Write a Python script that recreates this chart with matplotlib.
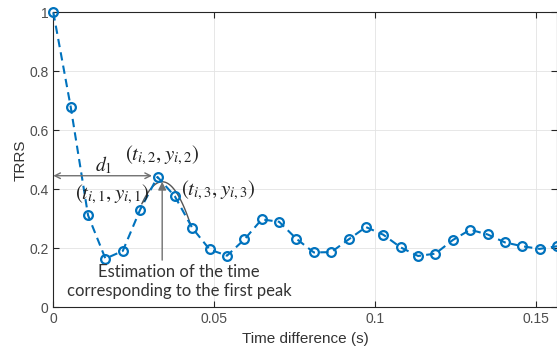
import matplotlib
matplotlib.use("Agg")
import matplotlib.pyplot as plt
import numpy as np

dt = 0.0054
trrs = [1.0, 0.68, 0.312, 0.165, 0.191, 0.331, 0.442, 0.376, 0.269, 0.196,
        0.175, 0.230, 0.298, 0.290, 0.232, 0.186, 0.187, 0.230, 0.272, 0.246,
        0.203, 0.174, 0.182, 0.228, 0.263, 0.247, 0.220, 0.207, 0.198, 0.207]
t = np.arange(len(trrs)) * dt
trrs = np.array(trrs)

xticks = [0, 0.05, 0.1, 0.15]
xticklabels = ["0", "0.05", "0.1", "0.15"]
yticks = [0, 0.2, 0.4, 0.6, 0.8, 1]
yticklabels = ["0", "0.2", "0.4", "0.6", "0.8", "1"]

plt.rcParams["font.family"] = ["Liberation Sans", "DejaVu Sans"]
plt.rcParams["mathtext.fontset"] = "stix"

fig = plt.figure(figsize=(5.57, 3.52), dpi=100)
ax = fig.add_axes([0.0957, 0.127, 0.9043, 0.838])

blue = "#0072BD"
ax.plot(t, trrs, linestyle="--", color=blue, lw=1.5, dashes=(4, 2.5),
        marker="o", ms=6.3, mfc="none", mec=blue, mew=1.6, zorder=3,
        clip_on=False)

# quadratic fit around the first peak (samples 5..8)
pk = slice(5, 9)
u = np.arange(4) - 1
c2, c1, c0 = np.polyfit(u, trrs[pk], 2)
uu = np.linspace(-0.9, 1.9, 100)
ax.plot(t[6] + uu * dt, c0 + c1 * uu + c2 * uu**2, color="#555555", lw=1.0, zorder=2)
u_peak = -c1 / (2 * c2)
t_peak = t[6] + u_peak * dt
y_peak = c0 + c1 * u_peak + c2 * u_peak**2

grey = "#707070"
# estimation arrow
ax.annotate("", xy=(t_peak, y_peak), xytext=(t_peak, 0.16),
            arrowprops=dict(arrowstyle="-|>", color=grey, lw=1.0,
                            mutation_scale=12, shrinkA=0, shrinkB=0))
ax.text(0.0391, 0.087, "Estimation of the time\ncorresponding to the first peak",
        ha="center", va="center", fontsize=12, family=["Lato", "DejaVu Sans"],
        color="#333333", linespacing=1.2)

# d1 arrow
ax.annotate("", xy=(0, 0.446), xytext=(t[6], 0.446),
            arrowprops=dict(arrowstyle="<->", color=grey, lw=1.0,
                            mutation_scale=10, shrinkA=4, shrinkB=0))
ax.text(0.0155, 0.482, r"$d_1$", ha="center", va="center", fontsize=14, color="#222222")

ax.text(0.0338, 0.516, r"$(t_{i,2}, y_{i,2})$", ha="center", va="center",
        fontsize=15, color="#222222")
ax.text(0.0184, 0.382, r"$(t_{i,1}, y_{i,1})$", ha="center", va="center",
        fontsize=15, color="#222222")
ax.text(0.0512, 0.397, r"$(t_{i,3}, y_{i,3})$", ha="center", va="center",
        fontsize=15, color="#222222")

ax.set_xlim(0, 0.1566)
ax.set_ylim(0, 1)
ax.set_xticks(xticks, xticklabels)
ax.set_yticks(yticks, yticklabels)
ax.tick_params(direction="in", length=4, width=0.8, top=True, right=True,
               labelsize=10, colors="#262626", labelcolor="#4d4d4d")
ax.grid(True, color="#e3e3e3", lw=0.6)
ax.set_axisbelow(True)
for s in ax.spines.values():
    s.set_color("#262626")
    s.set_linewidth(0.8)

ax.set_xlabel("Time difference (s)", fontsize=11, color="#333333")
ax.set_ylabel("TRRS", fontsize=11, color="#333333", labelpad=1)

fig.savefig("out.png", dpi=100)
